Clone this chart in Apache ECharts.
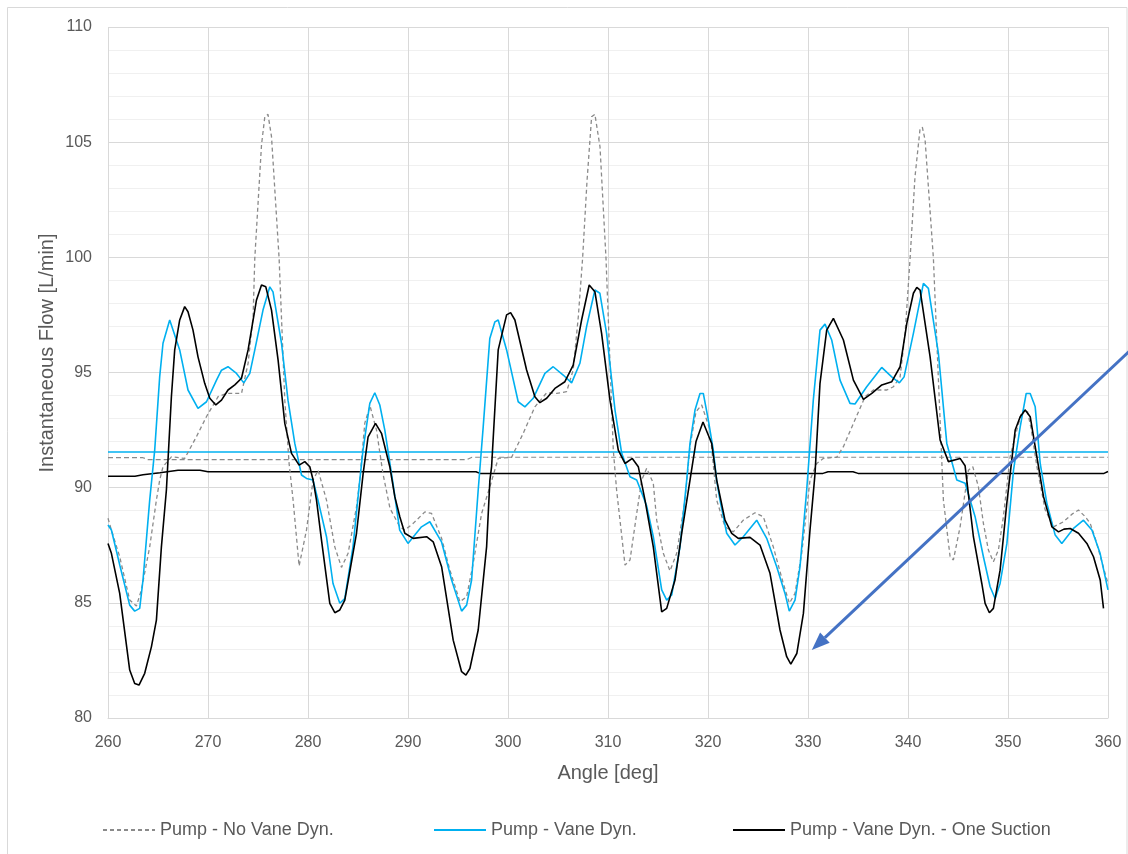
<!DOCTYPE html>
<html>
<head>
<meta charset="utf-8">
<script src="https://cdn.jsdelivr.net/npm/echarts@6/dist/echarts.min.js"></script>
<style>
html,body{margin:0;padding:0;background:#fff;}
#chart{width:1128px;height:854px;}
</style>
</head>
<body>
<div id="chart"></div>
<script>
// ---- Data (angle [deg], flow [L/min]) ----
const SERIES_NAMES = ['Pump - No Vane Dyn.', 'Pump - Vane Dyn.', 'Pump - Vane Dyn. - One Suction'];
const X_TITLE = 'Angle [deg]';
const Y_TITLE = 'Instantaneous Flow [L/min]';

const NO_VANE_DYN = [
[260.0,88.67],[260.34,88.16],[261.17,87.0],[262.17,85.12],[262.84,84.86],[263.34,85.56],[264.17,87.43],[264.84,89.46],
[265.17,90.33],[265.5,90.91],[266.34,91.34],[267.67,91.27],[268.84,92.21],[269.84,93.08],[271.01,93.95],[271.85,94.09],
[273.35,94.09],[274.01,95.40],[274.51,97.42],[274.68,99.96],[275.35,104.88],[275.68,106.1],[276.0,106.21],[276.35,105.24],
[277.11,99.96],[277.68,93.80],[278.11,91.05],[278.51,89.46],[279.11,86.6],[279.85,88.16],[280.51,90.33],[281.01,90.76],
[281.85,89.46],[282.68,87.43],[283.35,86.54],[284.01,87.15],[284.85,89.17],[285.18,90.33],[285.68,92.8],[286.2,93.55],
[286.85,92.5],[287.5,90.6],[288.2,89.1],[289.18,88.30],[289.68,88.16],[290.52,88.45],[291.69,88.95],[292.36,88.88],
[293.36,87.8],[294.19,86.42],[295.19,85.05],[295.86,85.26],[296.52,86.71],[297.36,88.88],[298.19,90.04],[299.02,91.27],
[300.36,91.32],[301.52,92.36],[302.69,93.51],[303.87,94.12],[304.87,94.09],[305.86,94.17],[306.52,95.11],[307.03,97.42],
[307.46,99.96],[307.9,103.3],[308.36,106.1],[308.69,106.21],[308.86,106.18],[309.2,104.8],[309.8,99.96],[310.53,91.63],
[310.86,89.9],[311.7,86.64],[312.2,86.86],[312.87,88.88],[313.37,90.33],[313.87,90.84],[314.53,90.19],[314.87,88.59],
[315.53,87.15],[316.2,86.39],[316.87,87.15],[317.7,89.46],[318.2,91.8],[318.8,93.3],[319.37,93.59],[320.2,92.5],
[320.87,89.46],[321.7,88.30],[322.53,88.08],[323.53,88.59],[324.7,88.91],[325.53,88.74],[326.53,87.43],[327.53,85.84],
[328.14,84.98],[328.7,85.41],[329.37,87.15],[330.2,90.33],[330.87,91.05],[331.53,91.27],[332.87,91.32],[333.54,91.78],
[334.54,92.79],[335.71,93.95],[336.54,94.24],[337.88,94.24],[338.54,94.38],[339.21,94.81],[339.71,96.70],[340.21,99.96],
[340.7,103.5],[341.21,105.6],[341.44,105.64],[341.71,105.09],[342.54,99.96],[343.54,89.46],[344.21,87.0],[344.54,86.86],
[345.21,88.30],[346.04,90.76],[346.48,90.91],[347.04,90.04],[347.54,88.45],[348.04,87.29],[348.54,86.78],[349.04,87.29],
[349.54,88.74],[350.21,91.34],[350.88,92.5],[351.38,93.30],[351.9,93.4],[352.3,92.6],[352.89,90.91],[353.72,89.03],
[354.55,88.30],[355.55,88.52],[356.4,88.85],[357.05,89.03],[357.72,88.74],[358.22,88.45],[358.8,87.7],[359.5,86.6],
[360.0,85.84]
];

const VANE_DYN = [
[260.0,88.38],[260.34,88.16],[261.2,86.6],[262.17,84.90],[262.67,84.64],[263.17,84.76],[263.5,85.99],[264.17,89.46],
[264.67,91.63],[265.17,94.82],[265.5,96.27],[266.17,97.28],[266.34,97.2],[267.17,95.98],[268.0,94.24],[269.0,93.44],
[269.85,93.73],[270.85,94.67],[271.35,95.1],[272.0,95.25],[272.85,94.96],[273.58,94.55],[274.18,94.96],[274.68,95.98],
[275.5,97.71],[276.18,98.72],[276.5,98.5],[277.35,96.27],[278.0,93.8],[278.68,91.92],[279.35,90.55],[279.85,90.4],
[280.5,90.33],[281.0,89.46],[281.85,87.87],[282.5,85.84],[283.18,84.98],[283.68,85.19],[284.5,87.43],[285.18,90.33],
[285.5,91.63],[286.18,93.66],[286.68,94.12],[287.18,93.59],[287.68,92.5],[288.5,90.19],[289.17,88.16],[290.0,87.58],
[290.68,87.94],[291.35,88.30],[292.18,88.52],[293.35,87.65],[294.36,85.99],[295.36,84.64],[295.86,84.90],[296.36,85.99],
[297.02,89.9],[297.52,92.64],[298.18,96.48],[298.69,97.2],[299.02,97.28],[299.86,95.98],[301.02,93.73],[301.69,93.51],
[302.52,93.88],[303.69,94.96],[304.52,95.25],[305.52,94.89],[306.36,94.55],[307.19,95.40],[307.86,96.99],[308.69,98.58],
[309.19,98.44],[309.86,96.70],[310.70,93.37],[311.37,91.49],[312.2,90.47],[312.87,90.33],[313.53,89.6],[313.87,89.2],
[314.53,87.87],[315.37,85.56],[315.87,85.12],[316.37,85.34],[317.2,87.43],[317.87,90.33],[318.2,91.92],[318.7,93.37],
[319.2,94.09],[319.53,94.09],[320.03,92.94],[320.53,91.63],[320.86,90.33],[321.2,89.46],[321.87,88.02],[322.7,87.51],
[323.53,87.87],[324.87,88.59],[325.87,87.8],[326.87,86.57],[327.7,85.41],[328.13,84.64],[328.7,85.12],[329.2,86.57],
[329.87,89.9],[330.53,93.80],[331.2,96.84],[331.7,97.10],[332.37,96.41],[333.2,94.67],[334.2,93.66],[334.7,93.63],
[335.87,94.38],[337.37,95.22],[338.37,94.81],[339.14,94.55],[339.61,94.81],[340.54,96.70],[341.54,98.87],[342.04,98.65],
[343.04,95.83],[343.88,91.92],[344.88,90.33],[345.71,90.19],[346.71,88.74],[347.54,87.0],[348.21,85.70],[348.71,85.19],
[349.21,85.84],[349.89,87.58],[350.55,90.76],[351.22,92.64],[351.82,94.09],[352.22,94.09],[352.72,93.51],[353.22,91.05],
[353.89,89.32],[354.72,87.94],[355.38,87.58],[356.55,88.23],[357.55,88.59],[358.39,88.16],[359.21,87.15],[360.0,85.56]
];

const ONE_SUCTION = [
[260.0,87.58],[260.34,87.15],[261.17,85.41],[262.17,82.08],[262.67,81.50],[263.10,81.43],[263.67,81.94],[264.34,83.09],
[264.84,84.25],[265.34,87.43],[265.84,89.9],[266.34,93.95],[266.67,95.98],[267.17,97.28],[267.67,97.86],[268.0,97.64],
[268.5,96.84],[269.0,95.68],[269.67,94.53],[270.18,93.88],[270.78,93.59],[271.35,93.8],[272.0,94.24],[272.68,94.46],
[273.35,94.75],[274.01,95.98],[274.85,98.15],[275.35,98.80],[275.78,98.72],[276.35,97.71],[277.01,95.54],[277.68,92.79],
[278.35,91.49],[279.11,90.98],[279.68,91.13],[280.18,90.91],[280.51,90.33],[280.85,89.46],[281.35,87.72],[282.18,84.98],
[282.68,84.57],[283.18,84.69],[283.68,85.12],[284.85,88.02],[285.51,90.6],[286.01,92.21],[286.75,92.79],[287.35,92.36],
[288.18,90.91],[288.68,89.61],[289.18,88.74],[289.68,88.02],[290.52,87.8],[291.86,87.87],[292.52,87.65],[293.36,86.57],
[294.52,83.38],[295.36,82.01],[295.79,81.86],[296.19,82.15],[297.02,83.82],[297.86,87.43],[298.19,90.33],[298.36,90.91],
[299.02,95.98],[299.86,97.50],[300.26,97.6],[300.69,97.28],[301.86,95.11],[302.69,93.95],[303.19,93.69],[303.87,93.88],
[304.69,94.31],[305.69,94.60],[306.52,95.32],[307.36,97.28],[308.12,98.80],[308.69,98.51],[309.36,96.70],[310.2,93.80],
[311.03,91.63],[311.7,91.05],[312.43,91.27],[313.03,90.91],[313.7,89.46],[314.53,87.43],[315.37,84.61],[315.87,84.76],
[316.7,85.99],[317.37,88.02],[318.2,90.33],[318.8,92.0],[319.5,92.85],[320.37,91.92],[320.87,90.33],[321.7,88.59],
[322.37,88.02],[323.03,87.8],[324.2,87.84],[325.2,87.51],[326.2,86.28],[327.2,83.82],[327.87,82.66],[328.28,82.34],
[328.88,82.80],[329.54,84.54],[330.2,88.16],[330.7,90.6],[331.2,94.53],[331.87,96.84],[332.54,97.35],[333.54,96.41],
[334.54,94.67],[335.54,93.83],[336.38,94.09],[337.38,94.46],[338.38,94.60],[339.21,95.25],[339.88,97.13],[340.54,98.44],
[340.88,98.70],[341.21,98.58],[342.21,95.68],[343.21,92.07],[344.04,91.13],[345.21,91.27],[345.71,90.95],[346.54,87.87],
[347.38,85.84],[347.71,84.98],[348.14,84.57],[348.54,84.76],[349.21,86.42],[349.88,89.32],[350.72,92.50],[351.22,93.08],
[351.72,93.37],[352.22,93.08],[352.89,91.34],[353.55,89.61],[354.39,88.30],[355.05,88.08],[355.6,88.2],[356.22,88.23],
[357.05,88.02],[357.89,87.58],[358.55,87.0],[359.22,85.99],[359.55,84.76]
];

// mean-flow reference lines
const MEAN_NO_VANE_DYN = [[260,91.30],[263.5,91.30],[264.0,91.22],[295.9,91.22],[296.4,91.32],[360,91.32]];
const MEAN_VANE_DYN = [[260,91.55],[360,91.55]];
const MEAN_ONE_SUCTION = [[260,90.50],[262.7,90.50],[263.5,90.56],[265.2,90.65],[267.0,90.76],[269.2,90.76],[270.0,90.69],
[296.8,90.69],[297.2,90.62],[331.5,90.62],[332.0,90.69],[334.5,90.69],[335.0,90.62],[359.6,90.62],[360,90.70]];

// annotation arrow (data coordinates: from -> tip)
const ARROW_FROM = [362.2, 95.95];
const ARROW_TO = [330.38, 82.95];

// ---- Styles ----
const FONT = "'Liberation Sans', Arial, sans-serif";
const C_GRAY = '#8a8a8a', C_BLUE = '#00b0f0', C_BLACK = '#000000', C_TEXT = '#595959', C_GRID = '#d9d9d9';

const chart = echarts.init(document.getElementById('chart'), null, {renderer: 'canvas'});

function lineSeries(name, data, color, width, type, z) {
  return {
    name: name, type: 'line', data: data, symbol: 'none', showSymbol: false,
    lineStyle: {color: color, width: width, type: type},
    itemStyle: {color: color}, z: z, silent: true, animation: false
  };
}

const legendCommon = {
  top: 816, itemWidth: 52, itemHeight: 2, itemGap: 0, orient: 'horizontal',
  itemStyle: {opacity: 0, borderWidth: 0},
  textStyle: {fontSize: 18, color: C_TEXT, fontFamily: FONT}, selectedMode: false
};

const option = {
  animation: false,
  backgroundColor: '#ffffff',
  textStyle: {fontFamily: FONT},
  grid: {left: 108, right: 20, top: 27, bottom: 136, containLabel: false},
  xAxis: {
    type: 'value', min: 260, max: 360, interval: 10,
    name: X_TITLE, nameLocation: 'middle', nameGap: 45,
    nameTextStyle: {fontSize: 20, color: C_TEXT, fontFamily: FONT},
    axisLine: {show: true, onZero: false, lineStyle: {color: C_GRID, width: 1}},
    axisTick: {show: false},
    axisLabel: {fontSize: 16, color: C_TEXT, margin: 17, fontFamily: FONT},
    splitLine: {show: true, lineStyle: {color: C_GRID, width: 1}}
  },
  yAxis: {
    type: 'value', min: 80, max: 110, interval: 5,
    axisLine: {show: false}, axisTick: {show: false},
    axisLabel: {fontSize: 16, color: C_TEXT, margin: 16, fontFamily: FONT},
    splitLine: {show: true, lineStyle: {color: C_GRID, width: 1}},
    minorTick: {show: false, splitNumber: 5},
    minorSplitLine: {show: true, lineStyle: {color: '#f0f0f0', width: 1}}
  },
  legend: [
    Object.assign({left: 97, data: [SERIES_NAMES[0]]}, legendCommon),
    Object.assign({left: 428, data: [SERIES_NAMES[1]]}, legendCommon),
    Object.assign({left: 727, data: [SERIES_NAMES[2]]}, legendCommon)
  ],
  series: [
    lineSeries('mean0', MEAN_NO_VANE_DYN, C_GRAY, 1.2, [5, 3], 1),
    lineSeries('mean1', MEAN_VANE_DYN, C_BLUE, 1.5, 'solid', 1),
    lineSeries('mean2', MEAN_ONE_SUCTION, C_BLACK, 1.5, 'solid', 1),
    lineSeries(SERIES_NAMES[0], NO_VANE_DYN, C_GRAY, 1.3, [4, 3], 2),
    lineSeries(SERIES_NAMES[1], VANE_DYN, C_BLUE, 1.6, 'solid', 3),
    lineSeries(SERIES_NAMES[2], ONE_SUCTION, C_BLACK, 1.6, 'solid', 4)
  ],
  graphic: [
    {id: 'border', type: 'rect', shape: {x: 7.5, y: 7.5, width: 1119.5, height: 850}, style: {fill: 'none', stroke: C_GRID, lineWidth: 1}, silent: true, z: -10},
    {id: 'ytitle', type: 'text', x: 47, y: 353, rotation: Math.PI / 2,
     style: {text: Y_TITLE, fill: C_TEXT, font: '20px ' + FONT, align: 'center', verticalAlign: 'middle'}, silent: true}
  ]
};

chart.setOption(option);

// Arrow annotation positioned through the chart's own coordinate system
const p0 = chart.convertToPixel({gridIndex: 0}, ARROW_FROM);
const p1 = chart.convertToPixel({gridIndex: 0}, ARROW_TO);
const dx = p0[0] - p1[0], dy = p0[1] - p1[1];
const len = Math.sqrt(dx * dx + dy * dy);
const ux = dx / len, uy = dy / len;
const headLen = 18, headHalf = 7;
const bx = p1[0] + ux * headLen, by = p1[1] + uy * headLen;
chart.setOption({
  graphic: [
    {id: 'arrowLine', type: 'line', shape: {x1: p0[0], y1: p0[1], x2: bx, y2: by},
     style: {stroke: '#4472c4', lineWidth: 3}, z: 50, silent: true},
    {id: 'arrowHead', type: 'polygon',
     shape: {points: [[p1[0], p1[1]], [bx - uy * headHalf, by + ux * headHalf], [bx + uy * headHalf, by - ux * headHalf]]},
     style: {fill: '#4472c4'}, z: 50, silent: true}
  ]
});
</script>
</body>
</html>
